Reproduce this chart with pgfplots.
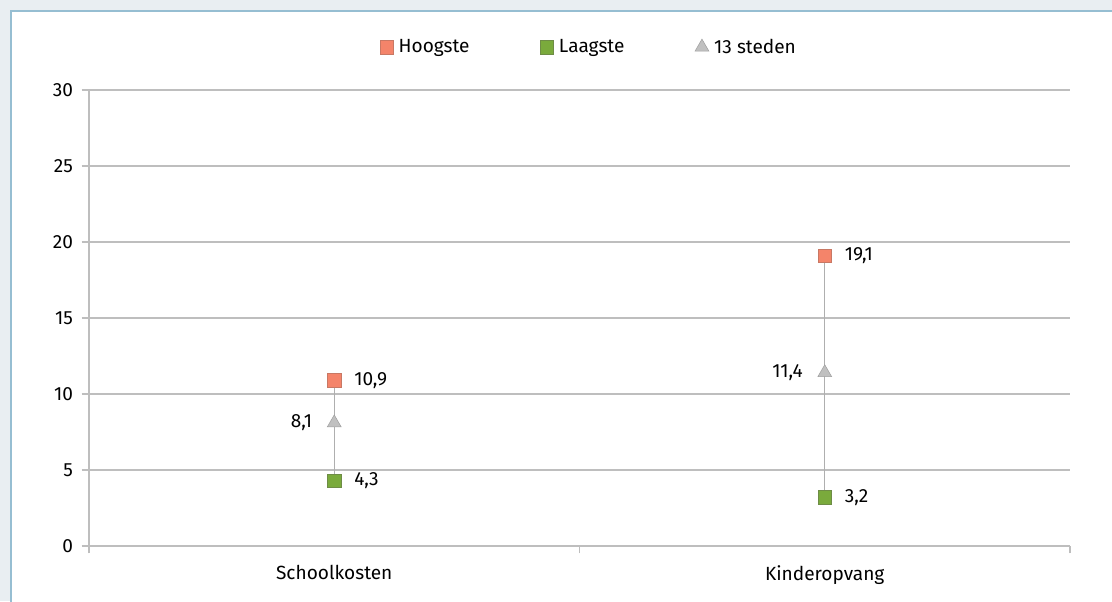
\documentclass[border=0pt]{standalone}
\usepackage{fontspec}
\setmainfont{Fira Sans}
\usepackage{pgfplots}
\pgfplotsset{compat=1.18}
\definecolor{bgpage}{RGB}{233,238,242}
\definecolor{panelline}{RGB}{150,190,210}
\definecolor{hoog}{RGB}{244,132,106}
\definecolor{hoogedge}{RGB}{200,120,100}
\definecolor{laag}{RGB}{122,170,60}
\definecolor{laagedge}{RGB}{110,140,70}
\definecolor{stad}{RGB}{192,192,192}
\definecolor{stadedge}{RGB}{160,160,160}
\definecolor{gridc}{RGB}{190,190,190}
\definecolor{rangec}{RGB}{175,175,175}

\pgfplotstableread{
x    hoog  laag  stad
0.5  10.9  4.3   8.1
1.5  19.1  3.2   11.4
}\kosten

\newcommand{\lbl}{\pgfmathprintnumber[use comma,fixed,fixed zerofill,precision=1,assume math mode=true]{\pgfplotspointmeta}}
\newcommand{\fnt}{\fontsize{14.3}{17}\selectfont}

\begin{document}
\begin{tikzpicture}
\clip (0,0) rectangle (834pt,450.75pt);
\fill[bgpage] (0,0) rectangle (834pt,450.75pt);
\filldraw[fill=white,draw=panelline,line width=1pt] (8.25pt,-15pt) rectangle (850pt,442.5pt);
\begin{axis}[
  at={(66.75pt,41.25pt)}, anchor=south west,
  scale only axis,
  width=735.75pt, height=342pt,
  xmin=0, xmax=2, ymin=0, ymax=30,
  ytick={0,5,...,30},
  xtick={0,1,2}, xticklabels={},
  extra x ticks={0.5,1.5},
  extra x tick labels={Schoolkosten,Kinderopvang},
  extra x tick style={major tick length=0pt, grid=none,
    tick label style={yshift=-11pt}},
  axis lines*=left,
  axis line style={draw=gridc, line width=0.9pt},
  tick style={draw=gridc, line width=0.9pt},
  tick align=outside,
  major tick length=5.5pt,
  ymajorgrids,
  grid style={draw=gridc, line width=0.8pt},
  tick label style={font=\fnt},
  yticklabel style={xshift=-3pt},
  /pgf/number format/assume math mode=true,
  legend columns=3,
  legend style={at={(0.51,1.094)}, anchor=center, draw=none, fill=none,
    font=\fnt,
    /tikz/every odd column/.append style={column sep=2pt},
    /tikz/every even column/.append style={column sep=51pt}},
  legend cell align=left,
]
\addplot[rangec, line width=0.9pt, forget plot] coordinates {(0.5,4.3) (0.5,10.9)};
\addplot[rangec, line width=0.9pt, forget plot] coordinates {(1.5,3.2) (1.5,19.1)};
\addplot[only marks, mark=square*, mark size=5pt,
  mark options={fill=hoog, draw=hoogedge, line width=0.4pt},
  nodes near coords=\lbl,
  nodes near coords style={font=\fnt, anchor=west, xshift=11.5pt}]
  table[x=x, y=hoog] {\kosten};
\addlegendentry{Hoogste}
\addplot[only marks, mark=square*, mark size=5pt,
  mark options={fill=laag, draw=laagedge, line width=0.4pt},
  nodes near coords=\lbl,
  nodes near coords style={font=\fnt, anchor=west, xshift=11.5pt}]
  table[x=x, y=laag] {\kosten};
\addlegendentry{Laagste}
\addplot[only marks, mark=triangle*, mark size=6pt,
  mark options={fill=stad, draw=stadedge, line width=0.4pt},
  nodes near coords=\lbl,
  nodes near coords style={font=\fnt, anchor=east, xshift=-13pt}]
  table[x=x, y=stad] {\kosten};
\addlegendentry{13 steden}
\end{axis}
\end{tikzpicture}
\end{document}
